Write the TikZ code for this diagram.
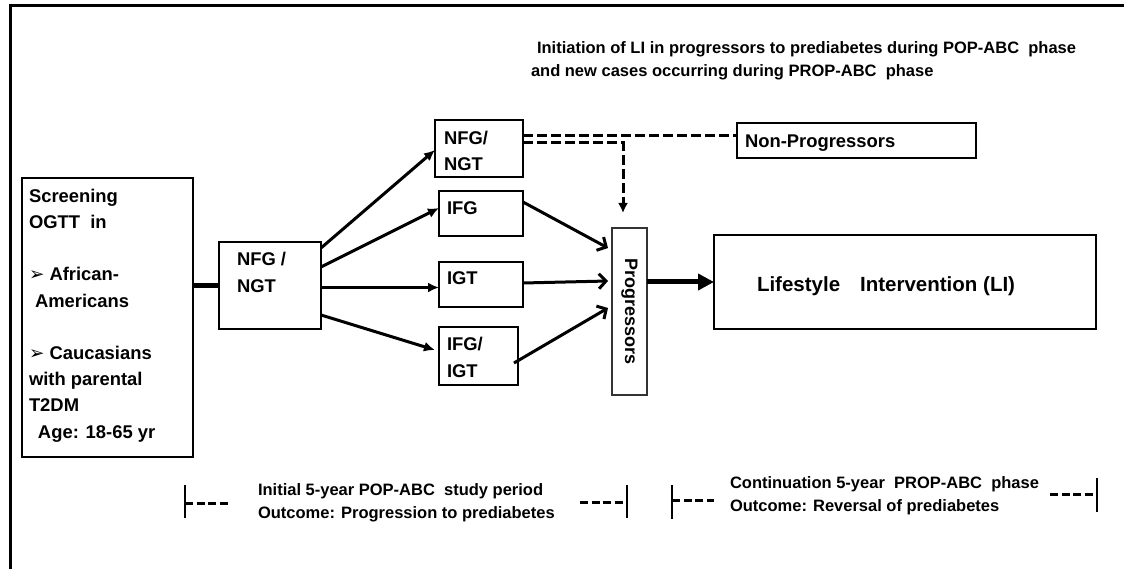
\documentclass[tikz,border=0pt]{standalone}
\usepackage{fontspec}
\setmainfont{Liberation Sans}
\newfontfamily\symfont{DejaVu Sans}
\usetikzlibrary{arrows.meta,calc}
\begin{document}
\begin{tikzpicture}[x=1pt,y=-1pt,
  box/.style={draw, line width=2.5pt, inner sep=0pt, outer sep=0pt, anchor=north west},
  txt/.style={inner sep=0pt, outer sep=0pt, anchor=base west, align=left, font=\bfseries\fontsize{18.4}{26.2}\selectfont},
  smalltxt/.style={txt, font=\bfseries\fontsize{16.5}{23}\selectfont},
  arr/.style={line width=3pt, -{Latex[length=11pt,width=10pt]}},
  barb/.style={line width=3pt, -{Straight Barb[length=7pt,width=15pt,line width=3pt]}},
  dsh/.style={line width=3pt, dash pattern=on 10pt off 4pt},
  bdash/.style={line width=3pt, dash pattern=on 8pt off 3.5pt},
  bar/.style={line width=2.2pt}]
\useasboundingbox (0,0) rectangle (1124,569);
% frame
\draw[line width=3pt] (10,569) -- (10,6) -- (1124,6);
% boxes
\node[box, minimum width=171pt, minimum height=279pt] (scr) at (22,178) {};
\node[box, minimum width=102pt, minimum height=87pt] (main) at (219,242) {};
\node[box, minimum width=88pt, minimum height=57pt] (nfgt) at (435,120) {};
\node[box, minimum width=84pt, minimum height=45pt] (ifg) at (439,191) {};
\node[box, minimum width=84pt, minimum height=45pt] (igt) at (439,262) {};
\node[box, minimum width=79pt, minimum height=58pt] (ifgigt) at (439,327) {};
\node[box, line width=1.3pt, draw=black!80, minimum width=35pt, minimum height=167pt] (prog) at (612,228) {};
\node[box, minimum width=239pt, minimum height=35pt] (nonp) at (737,123) {};
\node[box, minimum width=382pt, minimum height=94pt] (li) at (714,235) {};
% texts (multi-line nodes anchored at the baseline of their last line)
\node[txt] (scrt) at (29,438) {Screening\\OGTT\ \ in\\[26.2pt]{\symfont ➢} African-\\\hspace{6pt}Americans\\[26.2pt]{\symfont ➢} Caucasians\\with parental\\T2DM\\\hspace{9pt}Age: 18-65 yr};
\node[txt] (maint) at (237,292) {NFG /\\NGT};
\node[txt] (nfgtt) at (444,171) {NFG/\\NGT};
\node[txt] (ifgt) at (447,215) {IFG};
\node[txt] (igtt) at (447,285) {IGT};
\node[txt] (ifgigtt) at (447,377) {IFG/\\IGT};
\node[inner sep=0pt, rotate=-90, font=\bfseries\fontsize{18}{22}\selectfont] (progt) at (prog.center) {Progressors};
\node[txt] (nonpt) at (745,148) {Non-Progressors};
\node[txt, font=\bfseries\fontsize{20.5}{24}\selectfont] (lit) at (757,291) {Lifestyle\hspace{20pt}Intervention (LI)};
\node[smalltxt] (topt) at (537,77) {Initiation of LI in progressors to prediabetes during POP-ABC\ \ phase\\\hspace{-6pt}and new cases occurring during PROP-ABC\ \ phase};
\node[smalltxt] (p1t) at (258,518) {Initial 5-year POP-ABC\ \ study period\\Outcome: Progression to prediabetes};
\node[smalltxt] (p2t) at (730,511) {Continuation 5-year\ \ PROP-ABC\ \ phase\\Outcome: Reversal of prediabetes};
% connectors
\draw[line width=4.5pt] (main.west -| scr.east) -- (main.west);
\draw[arr] ($(main.north east)+(0,6)$) -- ($(nfgt.north west)+(0,30)$);
\draw[arr] ($(main.north east)+(0,25)$) -- ($(ifg.north west)+(0,17)$);
\coordinate (a3) at ($(main.east)+(0,2)$);
\draw[arr] (a3) -- (a3 -| igt.west);
\draw[arr] ($(main.south east)+(0,-14)$) -- ($(ifgigt.west)+(-4,-6)$);
\draw[barb] ($(ifg.north east)+(0,11)$) -- ($(prog.north west)+(-4,20)$);
\draw[barb] ($(igt.east)+(0,-1.5)$) -- ($(prog.north west)+(-4,53)$);
\draw[barb] ($(ifgigt.east)+(-4,7)$) -- ($(prog.north west)+(-4,80)$);
\coordinate (d1) at ($(nfgt.north east)+(0,16)$);
\draw[dsh] (d1) -- (d1 -| nonp.west);
\coordinate (d2) at ($(nfgt.north east)+(0,23)$);
\draw[dsh, -{Latex[length=10pt,width=10pt]}] (d2) -| ($(prog.north west)+(11,-15)$);
\draw[line width=5pt, -{Triangle[length=16pt,width=16pt]}] (prog.east |- li.west) -- (li.west);
% period brackets
\coordinate (b1t) at (185,485); \coordinate (b1b) at (185,518);
\draw[bar] (b1t) -- (b1b);
\coordinate (b1d) at (185,503);
\draw[bdash] (b1d) -- ++(43,0);
\coordinate (b2t) at (627,485); \coordinate (b2b) at (627,518);
\draw[bar] (b2t) -- (b2b);
\coordinate (b2d) at (580,502);
\draw[bdash] (b2d) -- ++(45,0);
\coordinate (b3t) at (672,485); \coordinate (b3b) at (672,519);
\draw[bar] (b3t) -- (b3b);
\coordinate (b3d) at (672,500);
\draw[bdash] (b3d) -- ++(42,0);
\coordinate (b4t) at (1097,478); \coordinate (b4b) at (1097,512);
\draw[bar] (b4t) -- (b4b);
\coordinate (b4d) at (1050,494);
\draw[bdash] (b4d) -- ++(44,0);
\end{tikzpicture}
\end{document}
